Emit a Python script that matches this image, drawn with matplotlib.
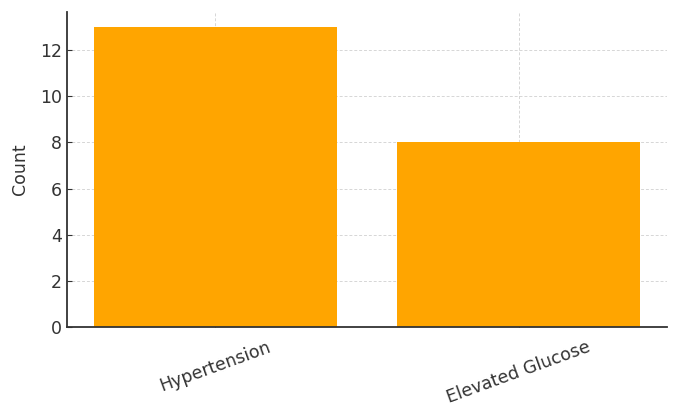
import matplotlib.pyplot as plt

categories = ['Hypertension', 'Elevated Glucose'] #condition names
counts = [13, 8] #number of cases per condition

fig = plt.figure(figsize=(6.8, 4.16), dpi=100) #create the figure
ax = fig.add_axes([0.0985, 0.214, 0.8825, 0.757]) #place the axes like the reference

ax.bar(categories, counts, color='#FFA500', width=0.8, zorder=2) #draw the bars
ax.set_ylabel('Count', fontsize=12.5, color='#333333', labelpad=8) #label y axis
ax.set_yticks([0, 2, 4, 6, 8, 10, 12])

ax.grid(True, linestyle=(0, (3, 2)), color='#bbbbbb', linewidth=0.7, alpha=0.6, zorder=3) #dashed grid over the bars
for side in ['top', 'right']:
    ax.spines[side].set_visible(False) #hide top and right spines
for side in ['left', 'bottom']:
    ax.spines[side].set_color('#333333')
    ax.spines[side].set_linewidth(1.3)
    ax.spines[side].set_zorder(4)

ax.tick_params(axis='both', direction='in', labelsize=12.5, labelcolor='#333333', color='#333333')
ax.tick_params(axis='x', pad=8)
plt.setp(ax.get_xticklabels(), rotation=20, ha='center')

fig.savefig('out.png', dpi=100) #save the figure
